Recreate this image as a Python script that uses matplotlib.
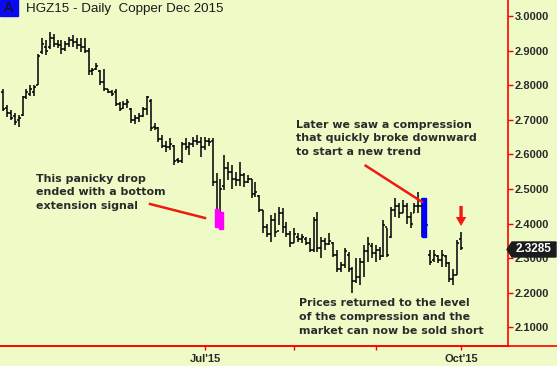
import numpy as np
import matplotlib.pyplot as plt
from matplotlib.lines import Line2D
from matplotlib.patches import Rectangle, Polygon

plt.rcParams['font.family'] = ['Liberation Sans', 'DejaVu Sans']

W, H = 557, 366
BG = '#eefbc6'
TXT = '#2a2a2a'

# daily OHLC, HGZ15
highs = [2.790, 2.743, 2.728, 2.720, 2.713, 2.770, 2.790, 2.800, 2.800, 2.890,
         2.937, 2.930, 2.954, 2.948, 2.930, 2.930, 2.928, 2.940, 2.945, 2.937,
         2.936, 2.936, 2.908, 2.850, 2.864, 2.844, 2.847, 2.790, 2.786, 2.790,
         2.750, 2.754, 2.760, 2.734, 2.714, 2.720, 2.737, 2.770, 2.760, 2.690,
         2.680, 2.656, 2.640, 2.647, 2.627, 2.590, 2.636, 2.647, 2.636, 2.650,
         2.656, 2.650, 2.650, 2.647, 2.647, 2.546, 2.530, 2.598, 2.578, 2.570,
         2.550, 2.578, 2.546, 2.540, 2.530, 2.520, 2.483, 2.440, 2.400, 2.425,
         2.430, 2.448, 2.445, 2.405, 2.380, 2.387, 2.373, 2.370, 2.360, 2.358,
         2.420, 2.433, 2.360, 2.358, 2.373, 2.347, 2.324, 2.289, 2.330, 2.318,
         2.275, 2.300, 2.300, 2.338, 2.360, 2.344, 2.338, 2.332, 2.410, 2.387,
         2.448, 2.474, 2.460, 2.468, 2.460, 2.433, 2.460, 2.490, 2.475, 2.416,
         2.324, 2.324, 2.310, 2.324, 2.310, 2.289, 2.270, 2.353, 2.376]
lows = [2.725, 2.708, 2.700, 2.685, 2.680, 2.710, 2.760, 2.770, 2.770, 2.800,
        2.890, 2.887, 2.905, 2.910, 2.907, 2.890, 2.900, 2.910, 2.910, 2.905,
        2.896, 2.893, 2.830, 2.830, 2.844, 2.800, 2.783, 2.777, 2.770, 2.740,
        2.725, 2.730, 2.734, 2.690, 2.688, 2.694, 2.708, 2.714, 2.668, 2.670,
        2.636, 2.618, 2.607, 2.613, 2.570, 2.575, 2.575, 2.613, 2.598, 2.620,
        2.627, 2.592, 2.613, 2.624, 2.510, 2.390, 2.390, 2.497, 2.526, 2.500,
        2.510, 2.510, 2.506, 2.517, 2.474, 2.477, 2.434, 2.373, 2.360, 2.347,
        2.360, 2.396, 2.373, 2.360, 2.332, 2.344, 2.347, 2.344, 2.338, 2.318,
        2.318, 2.318, 2.300, 2.324, 2.338, 2.303, 2.260, 2.260, 2.272, 2.260,
        2.200, 2.228, 2.222, 2.246, 2.290, 2.300, 2.290, 2.295, 2.303, 2.303,
        2.358, 2.420, 2.416, 2.430, 2.400, 2.387, 2.430, 2.430, 2.362, 2.360,
        2.280, 2.290, 2.286, 2.275, 2.275, 2.231, 2.222, 2.250, 2.324]
opens = [2.780, 2.735, 2.720, 2.710, 2.700, 2.715, 2.765, 2.775, 2.780, 2.800,
         2.895, 2.910, 2.910, 2.935, 2.920, 2.915, 2.905, 2.920, 2.930, 2.925,
         2.915, 2.910, 2.900, 2.840, 2.848, 2.840, 2.810, 2.788, 2.780, 2.780,
         2.745, 2.735, 2.745, 2.730, 2.700, 2.705, 2.710, 2.730, 2.755, 2.680,
         2.675, 2.645, 2.625, 2.620, 2.625, 2.585, 2.580, 2.630, 2.620, 2.630,
         2.640, 2.635, 2.620, 2.640, 2.640, 2.520, 2.410, 2.510, 2.560, 2.550,
         2.530, 2.525, 2.540, 2.520, 2.530, 2.485, 2.480, 2.440, 2.390, 2.370,
         2.410, 2.380, 2.430, 2.390, 2.370, 2.345, 2.360, 2.355, 2.355, 2.345,
         2.325, 2.410, 2.330, 2.350, 2.340, 2.345, 2.310, 2.270, 2.280, 2.310,
         2.270, 2.235, 2.245, 2.290, 2.320, 2.335, 2.315, 2.325, 2.305, 2.390,
         2.360, 2.440, 2.450, 2.430, 2.450, 2.420, 2.430, 2.450, 2.450, 2.370,
         2.310, 2.295, 2.305, 2.295, 2.305, 2.285, 2.240, 2.250, 2.355]
closes = [2.730, 2.720, 2.705, 2.695, 2.705, 2.765, 2.780, 2.790, 2.795, 2.885,
          2.920, 2.900, 2.935, 2.920, 2.915, 2.905, 2.920, 2.930, 2.925, 2.915,
          2.910, 2.900, 2.840, 2.845, 2.855, 2.810, 2.790, 2.780, 2.775, 2.745,
          2.730, 2.745, 2.750, 2.700, 2.705, 2.710, 2.730, 2.765, 2.675, 2.675,
          2.645, 2.625, 2.620, 2.630, 2.580, 2.580, 2.630, 2.620, 2.630, 2.640,
          2.635, 2.620, 2.640, 2.635, 2.520, 2.410, 2.500, 2.560, 2.550, 2.530,
          2.525, 2.540, 2.520, 2.530, 2.485, 2.490, 2.440, 2.390, 2.370, 2.410,
          2.375, 2.430, 2.390, 2.370, 2.345, 2.370, 2.355, 2.360, 2.345, 2.325,
          2.410, 2.330, 2.350, 2.340, 2.350, 2.310, 2.270, 2.280, 2.320, 2.270,
          2.235, 2.245, 2.290, 2.320, 2.340, 2.315, 2.325, 2.305, 2.395, 2.310,
          2.440, 2.450, 2.430, 2.450, 2.420, 2.400, 2.450, 2.450, 2.370, 2.395,
          2.290, 2.310, 2.295, 2.310, 2.285, 2.240, 2.250, 2.345, 2.3285]

month_ticks = [52, 75, 96, 118]
month_labels = ["Jul'15", "", "", "Oct'15"]
price_ticks = [2.1, 2.2, 2.3, 2.4, 2.5, 2.6, 2.7, 2.8, 2.9, 3.0]
last_price = 2.3285

# highlighted bars: (bar index, top, bottom)
pink_marks = [(55, 2.442, 2.390), (56, 2.433, 2.384)]
blue_mark = (108, 2.475, 2.362)
arrow_bar, arrow_top, arrow_tip = 118, 2.451, 2.393


def fx(x):
    return x / W


def fy(y):
    return 1 - y / H


fig = plt.figure(figsize=(W / 100, H / 100), dpi=100, facecolor=BG)
ax = fig.add_axes([0, 20 / H, 508 / W, 346 / H])
ax.set_facecolor(BG)

idx = np.arange(len(highs))
ax.vlines(idx, lows, highs, color='black', lw=1.1)
ax.hlines(opens, idx - 0.5, idx, color='black', lw=1.1)
ax.hlines(closes, idx, idx + 0.5, color='black', lw=1.1)

for i, top, bot in pink_marks:
    ax.add_patch(Rectangle((i - 0.4, bot), 1.1, top - bot, color='#ff00ff', zorder=3))
i, top, bot = blue_mark
ax.add_patch(Rectangle((i - 0.15, bot), 1.2, top - bot, color='#0000ff', zorder=3))

ax.annotate('', xy=(arrow_bar, arrow_tip), xytext=(arrow_bar, arrow_top),
            arrowprops=dict(facecolor='#f01a10', edgecolor='none', width=2.4,
                            headwidth=7.5, headlength=6.5, shrink=0))

ax.set_xlim(-0.825, 130.1)
ax.set_ylim(2.0462, 3.0462)

for s in ['left', 'top']:
    ax.spines[s].set_visible(False)
for s in ['right', 'bottom']:
    ax.spines[s].set_color('red')
    ax.spines[s].set_linewidth(1.2)

ax.yaxis.tick_right()
ax.set_yticks(price_ticks)
ax.set_yticklabels([f'{p:.4f}' for p in price_ticks])
ax.tick_params(axis='y', colors='red', labelcolor=TXT, length=3.5, width=1,
               pad=1.5, labelsize=8)
ax.set_xticks(month_ticks)
ax.set_xticklabels(month_labels)
ax.tick_params(axis='x', colors='red', labelcolor=TXT, length=3, width=1,
               pad=3, labelsize=8)
for lab in ax.get_xticklabels() + ax.get_yticklabels():
    lab.set_fontweight('bold')

# bottom rule runs across the whole figure
fig.add_artist(Line2D([0, 1], [fy(346)] * 2, color='red', lw=1.2,
                      transform=fig.transFigure))

# last price tag
tag = Polygon([(fx(507), fy(249.5)), (fx(512), fy(242)), (fx(556), fy(242)),
               (fx(556), fy(257)), (fx(512), fy(257))], closed=True,
              transform=fig.transFigure, color='#1c1c1c', clip_on=False)
fig.add_artist(tag)
fig.text(fx(534), fy(249.5), f'{last_price:.4f}', color='white', fontsize=8.5,
         fontweight='bold', ha='center', va='center')

# title
fig.add_artist(Rectangle((0, fy(16)), fx(18), 16 / H, color='#0a0af0',
                         transform=fig.transFigure))
fig.text(fx(9), fy(8.5), 'A', color='#111111', fontsize=10, ha='center',
         va='center')
fig.text(fx(26), fy(9), 'HGZ15 - Daily  Copper Dec 2015', color='#1a1a1a',
         fontsize=9.6, ha='left', va='center')

# commentary
note = dict(color=TXT, fontsize=7.9, fontweight='bold', ha='left', va='top',
            linespacing=1.47, family='DejaVu Sans')
fig.text(fx(36), fy(173.5), 'This panicky drop\nended with a bottom\nextension signal', **note)
fig.text(fx(296), fy(119.5), 'Later we saw a compression\nthat quickly broke downward\nto start a new trend', **note)
fig.text(fx(299), fy(298), 'Prices returned to the level\nof the compression and the\nmarket can now be sold short', **note)

for (x0, y0), (x1, y1) in [((150, 204), (205, 218)), ((365.7, 165.7), (421.7, 201.7))]:
    fig.add_artist(Line2D([fx(x0), fx(x1)], [fy(y0), fy(y1)], color='#f01a10',
                          lw=1.8, transform=fig.transFigure))

fig.savefig('out.png', dpi=100, facecolor=BG)
